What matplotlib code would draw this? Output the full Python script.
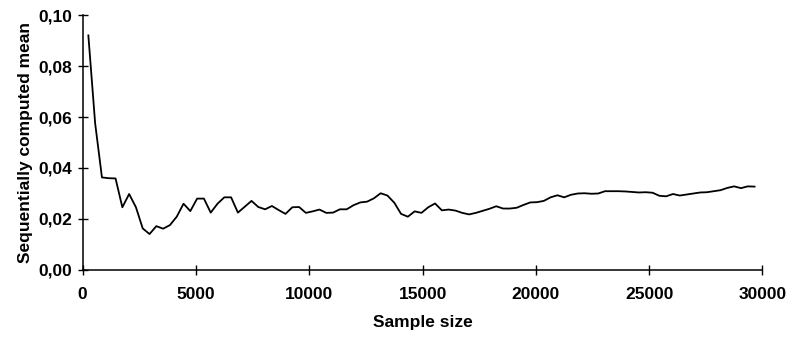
import matplotlib
matplotlib.use("Agg")
import matplotlib.pyplot as plt
from matplotlib.ticker import FuncFormatter

# Data
sample_size = [250 + 300 * k for k in range(99)]
seq_mean = [
    0.0920, 0.0575, 0.0363, 0.0360, 0.0359, 0.0246, 0.0298, 0.0246, 0.0163, 0.0141,
    0.0172, 0.0162, 0.0176, 0.0209, 0.0260, 0.0231, 0.0280, 0.0280, 0.0225, 0.0260,
    0.0285, 0.0285, 0.0225, 0.0248, 0.0271, 0.0247, 0.0238, 0.0251, 0.0235, 0.0220,
    0.0246, 0.0247, 0.0224, 0.0230, 0.0237, 0.0224, 0.0225, 0.0238, 0.0238, 0.0254,
    0.0265, 0.0268, 0.0281, 0.0301, 0.0292, 0.0264, 0.0220, 0.0209, 0.0230, 0.0224,
    0.0246, 0.0261, 0.0234, 0.0237, 0.0233, 0.0224, 0.0218, 0.0224, 0.0232, 0.0240,
    0.0250, 0.0241, 0.0241, 0.0244, 0.0255, 0.0265, 0.0266, 0.0271, 0.0285, 0.0293,
    0.0285, 0.0295, 0.0300, 0.0301, 0.0299, 0.0300, 0.0309, 0.0309, 0.0309, 0.0308,
    0.0306, 0.0304, 0.0305, 0.0303, 0.0291, 0.0289, 0.0298, 0.0292, 0.0296, 0.0300,
    0.0304, 0.0305, 0.0309, 0.0313, 0.0322, 0.0328, 0.0321, 0.0328, 0.0327,
]
x_ticks = [0, 5000, 10000, 15000, 20000, 25000, 30000]
y_ticks = [0.00, 0.02, 0.04, 0.06, 0.08, 0.10]

plt.rcParams['font.family'] = ['Liberation Sans', 'DejaVu Sans']

fig = plt.figure(figsize=(7.89, 3.38), dpi=100)
ax = fig.add_axes([0.1048, 0.2012, 0.8616, 0.7544])

ax.plot(sample_size, seq_mean, color='black', linewidth=1.3)

ax.set_xlim(0, 30000)
ax.set_ylim(0, 0.10)
ax.set_xticks(x_ticks)
ax.set_yticks(y_ticks)
ax.yaxis.set_major_formatter(FuncFormatter(lambda v, p: f"{v:.2f}".replace('.', ',')))
ax.xaxis.set_major_formatter(FuncFormatter(lambda v, p: f"{int(round(v))}"))

for s in ['top', 'right']:
    ax.spines[s].set_visible(False)
for s in ['left', 'bottom']:
    ax.spines[s].set_linewidth(1.1)

ax.tick_params(axis='both', direction='inout', length=7, width=1, labelsize=12.5)
for lbl in ax.get_xticklabels() + ax.get_yticklabels():
    lbl.set_fontweight('bold')
ax.tick_params(axis='x', pad=9)
ax.tick_params(axis='y', pad=4)

ax.set_xlabel('Sample size', fontsize=12.5, fontweight='bold', labelpad=9)
ax.set_ylabel('Sequentially computed mean', fontsize=12.5, fontweight='bold', labelpad=4)

fig.savefig('out.png', dpi=100)
